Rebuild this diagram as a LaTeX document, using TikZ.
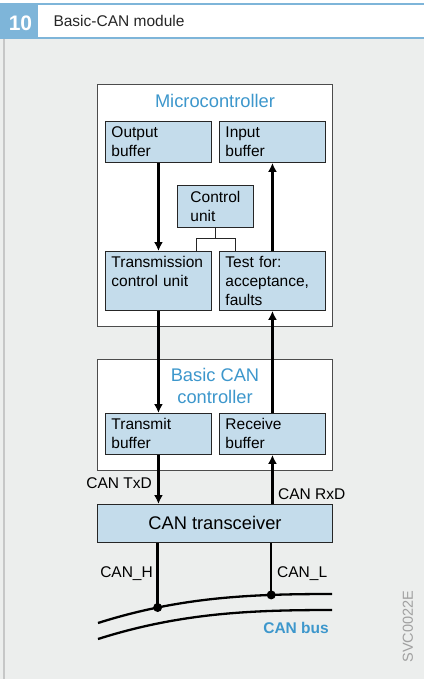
\documentclass[tikz,border=0pt]{standalone}
\usepackage{fontspec}
\setmainfont{Liberation Sans}
\usetikzlibrary{arrows.meta}

\definecolor{headblue}{HTML}{7EB5D9}
\definecolor{titleblue}{HTML}{3D97CC}
\definecolor{boxblue}{HTML}{C4DCEB}
\definecolor{panelgray}{HTML}{ECEEED}
\definecolor{stripegray}{HTML}{C6C7C7}
\definecolor{codegray}{HTML}{A0A0A0}

\newcommand\boxfont{\fontsize{15.5}{19}\selectfont}
\newcommand\bigfont{\fontsize{18.3}{22}\selectfont}

\tikzset{
  panel/.style={draw=black!70, line width=0.8pt, fill=white, anchor=north west, inner sep=0pt, minimum width=235pt},
  unit/.style={draw=black!85, line width=0.9pt, fill=boxblue, anchor=north west, align=left, font=\boxfont, inner xsep=6pt, inner ysep=2pt},
  buffer/.style={unit, text width=94pt, minimum height=41pt},
  heading/.style={text=titleblue, font=\bigfont, align=center, inner sep=0pt},
  signal/.style={font=\boxfont, inner sep=0pt},
  flow/.style={line width=2.3pt, -{Latex[length=9pt,width=9pt]}},
  wire/.style={line width=0.9pt, draw=black!85},
  bus/.style={line width=2.3pt}
}

\begin{document}
\begin{tikzpicture}[x=1pt,y=-1pt]
        \useasboundingbox (0,0) rectangle (424,679);
        % header bar and background
        \fill[panelgray] (0,39) rectangle (424,679);
        \fill[stripegray] (2.7,39) rectangle (4.7,679);
        \fill[headblue] (0,3.3) rectangle (424,5);
        \fill[headblue] (0,36.7) rectangle (424,39.3);
        \fill[headblue] (0,3.3) rectangle (38,39.3);
        \node[anchor=base, text=white, font=\fontsize{21}{21}\selectfont\bfseries] (fignum) at (20.5,30.5) {10};
        \node[anchor=base west, font=\fontsize{15.5}{18}\selectfont, text=black!85] (figtitle) at (50,26.5) {Basic-CAN module};
        % microcontroller
        \node[panel, minimum height=242pt] (mc) at (97,84) {};
        \node[heading] (mctitle) at (215,100.5) {Microcontroller};
        \node[buffer] (outbuf) at (105,121) {Output\\buffer};
        \node[buffer] (inbuf) at (219,121) {Input\\buffer};
        \node[unit, minimum width=76pt, minimum height=42pt] (ctrl) at (177,185) {Control\\unit};
        \node[buffer, minimum height=59pt] (tcu) at (105,251) {Transmission\\control unit\\\mbox{}};
        \node[buffer, minimum height=59pt] (test) at (219,251) {Test for:\\acceptance,\\faults};
        % basic can controller
        \node[panel, minimum height=111pt] (bcc) at (97,359) {};
        \node[heading] (bcctitle) at (215,385.5) {Basic CAN\\controller};
        \node[buffer] (txbuf) at (105,413) {Transmit\\buffer};
        \node[buffer] (rxbuf) at (219,413) {Receive\\buffer};
        \node[unit, minimum width=235pt, minimum height=38pt, font=\bigfont] (trx) at (97,504) {CAN transceiver};
        % data paths
        \draw[flow] (outbuf) -- (tcu);
        \draw[flow] (test) -- (inbuf);
        \draw[flow] (tcu) -- (txbuf);
        \draw[flow] (rxbuf) -- (test);
        \draw[flow] (txbuf) -- (txbuf |- trx.north);
        \draw[flow] (rxbuf |- trx.north) -- (rxbuf);
        \draw[wire] (ctrl.south) -- ++(0,11) coordinate (cjoin);
        \draw[wire] ([xshift=38pt]tcu.north) |- (cjoin) -| ([xshift=-37.5pt]test.north);
        \node[signal, anchor=base east] (txd) at (152,488) {CAN TxD};
        \node[signal, anchor=base west] (rxd) at (278,499) {CAN RxD};
        % bus
        \draw[bus] (98,623) .. controls (180,597) and (250,594) .. (332,594)
            coordinate[pos=0.25] (hdot) coordinate[pos=0.745] (ldot);
        \draw[bus] (98,639) .. controls (180,613) and (250,610) .. (332,610);
        \draw[bus] (trx.south -| hdot) -- (hdot);
        \draw[bus] (trx.south -| ldot) -- (ldot);
        \fill (hdot) circle (4.5pt);
        \fill (ldot) circle (4.5pt);
        \node[signal, anchor=base east] (canh) at (153,577) {CAN\_H};
        \node[signal, anchor=base west] (canl) at (277,577) {CAN\_L};
        \node[signal, anchor=base east, text=titleblue, font=\boxfont\bfseries] (busname) at (329,633) {CAN bus};
        \node[rotate=90, text=codegray, font=\fontsize{14.5}{15}\selectfont, inner sep=0pt] (code) at (408,626.5) {SVC0022E};
    \end{tikzpicture}
\end{document}
